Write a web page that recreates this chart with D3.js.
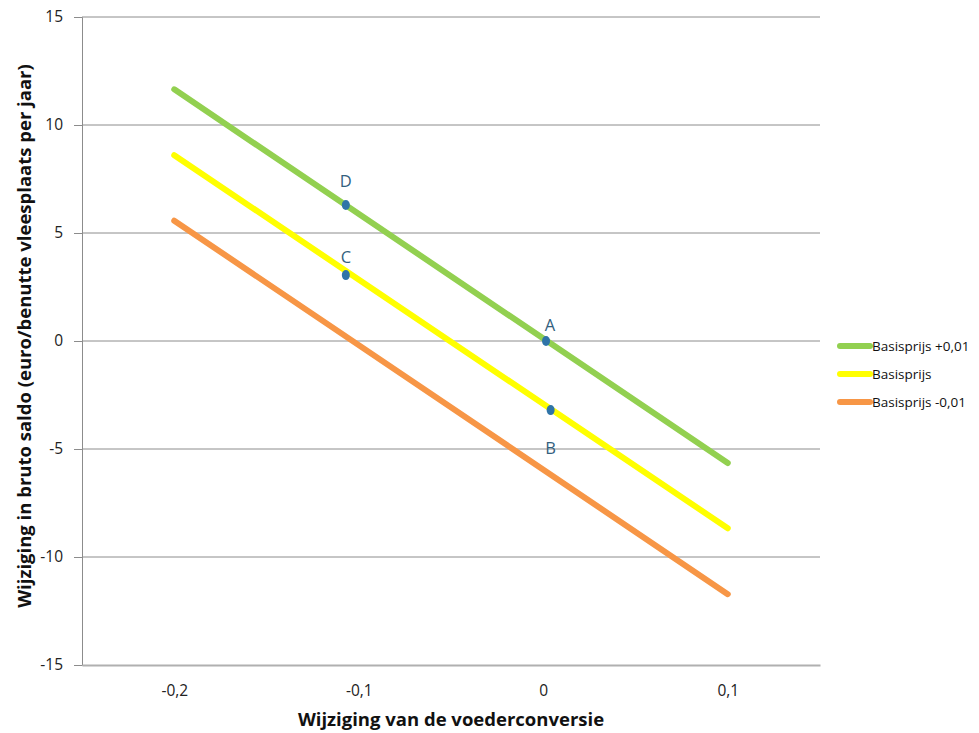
<!DOCTYPE html>
<html><head><meta charset="utf-8">
<script src="https://cdn.jsdelivr.net/npm/d3@7"></script>
<style>body{margin:0;background:#fff;} text{font-family:"Open Sans",sans-serif;}</style>
</head><body>
<svg id="c" width="979" height="733"></svg>
<script>
const seriesNames = ["Basisprijs +0,01", "Basisprijs", "Basisprijs -0,01"];
const seriesColors = ["#92D050", "#FFFF00", "#F79646"];
const xValues = [-0.2, 0.1];
const greenValues = [11.65, -5.65];
const yellowValues = [8.6, -8.67];
const orangeValues = [5.57, -11.72];
const pointLabels = ["A", "B", "C", "D"];
const pointX = [0.0015, 0.004, -0.107, -0.107];
const pointY = [0.0, -3.2, 3.05, 6.3];
const xTicks = [-0.2, -0.1, 0, 0.1];
const yTicks = [-15, -10, -5, 0, 5, 10, 15];

const svg = d3.select("#c");
const x = d3.scaleLinear().domain([-0.25, 0.15]).range([82, 820]);
const y = d3.scaleLinear().domain([-15, 15]).range([665, 17]);
const fmt = v => (v === 0 ? "0" : d3.format(".1f")(v).replace(".", ",").replace("−", "-"));

// gridlines
svg.append("g").selectAll("line").data(yTicks.filter(d => d !== -15)).join("line")
  .attr("x1", 82).attr("x2", 820).attr("y1", d => y(d)).attr("y2", d => y(d))
  .attr("stroke", "#8c8c8c").attr("stroke-width", 1);

// y axis
const ya = svg.append("g").attr("transform", "translate(82,0)")
  .call(d3.axisLeft(y).tickValues(yTicks).tickSize(8).tickPadding(11).tickFormat(d => String(d)));
ya.select(".domain").attr("stroke", "#8c8c8c");
ya.selectAll(".tick line").attr("stroke", "#8c8c8c");
ya.selectAll("text").attr("font-size", 15.5).attr("fill", "#222").style("font-family", "'Open Sans',sans-serif");

// x axis
const xa = svg.append("g").attr("transform", "translate(0,665)")
  .call(d3.axisBottom(x).tickValues(xTicks).tickSize(0).tickPadding(20).tickFormat(fmt));
xa.select(".domain").attr("stroke", "#b0b0b0").attr("stroke-width", 2);
xa.selectAll("text").attr("font-size", 15.5).attr("fill", "#222").style("font-family", "'Open Sans',sans-serif");

// series
const allSeries = [greenValues, yellowValues, orangeValues];
const line = d3.line().x((d, i) => x(xValues[i])).y(d => y(d));
allSeries.forEach((vals, k) => {
  svg.append("path").datum(vals).attr("d", line).attr("fill", "none")
    .attr("stroke", seriesColors[k]).attr("stroke-width", 6).attr("stroke-linecap", "round");
});

// points
svg.append("g").selectAll("ellipse").data(pointLabels).join("ellipse")
  .attr("cx", (d, i) => x(pointX[i])).attr("cy", (d, i) => y(pointY[i]))
  .attr("rx", 4).attr("ry", 5).attr("fill", "#2F74A8");
const labelDy = [-10, 44, -12, -18];
svg.append("g").selectAll("text").data(pointLabels).join("text")
  .attr("x", (d, i) => x(pointX[i]) + (d === "A" ? 4 : 0))
  .attr("y", (d, i) => y(pointY[i]) + labelDy[i])
  .attr("text-anchor", "middle").attr("font-size", 16.5).attr("fill", "#33607E")
  .text(d => d);

// axis titles
svg.append("text").attr("x", 451).attr("y", 726).attr("text-anchor", "middle")
  .attr("font-size", 18.5).attr("font-weight", "bold").attr("fill", "#111")
  .text("Wijziging van de voederconversie");
svg.append("text").attr("transform", "translate(31,336) rotate(-90)").attr("text-anchor", "middle")
  .attr("font-size", 18.5).attr("font-weight", "bold").attr("fill", "#111")
  .text("Wijziging in bruto saldo (euro/benutte vleesplaats per jaar)");

// legend
const lg = svg.append("g");
const ly = [346, 374, 402];
seriesNames.forEach((n, k) => {
  lg.append("line").attr("x1", 840).attr("x2", 870).attr("y1", ly[k]).attr("y2", ly[k])
    .attr("stroke", seriesColors[k]).attr("stroke-width", 6).attr("stroke-linecap", "round");
  lg.append("text").attr("x", 872).attr("y", ly[k] + 5).attr("font-size", 13.5).attr("fill", "#111").text(n);
});
</script>
</body></html>
